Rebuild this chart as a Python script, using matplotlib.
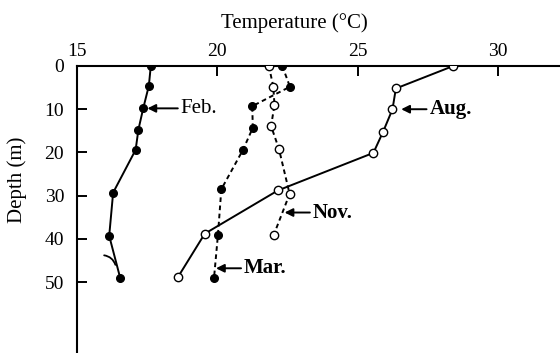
import matplotlib
matplotlib.use('Agg')
import matplotlib.pyplot as plt

plt.rcParams['font.family'] = ['Liberation Serif', 'DejaVu Serif']

# Data (temperature in °C, depth in m)
feb_temp = [17.64, 17.57, 17.37, 17.2, 17.1, 16.3, 16.16, 16.55]
feb_depth = [0, 4.6, 9.8, 14.7, 19.4, 29.3, 39.3, 49]
aug_temp = [28.40, 26.36, 26.24, 25.9, 25.56, 22.16, 19.56, 18.61]
aug_depth = [0, 5.2, 10, 15.3, 20.1, 28.8, 38.8, 48.8]
mar_temp = [22.32, 22.59, 21.25, 21.27, 20.92, 20.15, 20.03, 19.89]
mar_depth = [0, 4.8, 9.3, 14.3, 19.4, 28.5, 39, 49]
nov_temp = [21.84, 22.0, 22.04, 21.92, 22.2, 22.58, 22.02]
nov_depth = [0, 4.8, 9, 13.9, 19.2, 29.6, 39]

x_ticks = [15, 20, 25, 30]
y_ticks = [0, 10, 20, 30, 40, 50]

fig = plt.figure(figsize=(5.6, 3.53), dpi=100)
ax = fig.add_axes([76.6 / 560, 0, 1 - 76.6 / 560, 1 - 66 / 353])

lw = 1.4
dash = (0, (2.4, 1.8))
ax.plot(feb_temp, feb_depth, '-', color='black', lw=lw, marker='o', ms=5.5,
        mfc='black', mec='black', zorder=3)
ax.plot(aug_temp, aug_depth, '-', color='black', lw=lw, marker='o', ms=6,
        mfc='white', mec='black', mew=1.0, zorder=3)
ax.plot(mar_temp, mar_depth, linestyle=dash, color='black', lw=lw, marker='o',
        ms=5.5, mfc='black', mec='black', zorder=3)
ax.plot(nov_temp, nov_depth, linestyle=dash, color='black', lw=lw, marker='o',
        ms=6, mfc='white', mec='black', mew=1.0, zorder=3)

# small hook stroke near Feb profile
ax.annotate('', xy=(16.38, 46.0), xytext=(15.98, 43.8),
            arrowprops=dict(arrowstyle='-', lw=1.3, color='black',
                            shrinkA=0, shrinkB=0,
                            connectionstyle='arc3,rad=-0.3'))

ax.set_xlim(15, 32.2)
ax.set_ylim(66.4, 0)
ax.set_xticks(x_ticks)
ax.set_yticks(y_ticks)
ax.xaxis.set_ticks_position('top')
ax.tick_params(axis='both', direction='in', length=7, width=1.4,
               labelsize=14, colors='black')
ax.tick_params(axis='x', pad=4)
ax.tick_params(axis='y', pad=9)
for s in ['right', 'bottom']:
    ax.spines[s].set_visible(False)
for s in ['top', 'left']:
    ax.spines[s].set_linewidth(1.5)
ax.patch.set_visible(False)

fig.text(294 / 560, 1 - 28 / 353, 'Temperature (°C)', ha='center',
         va='baseline', fontsize=15)
fig.text(17 / 560, 1 - 180 / 353, 'Depth (m)', ha='center', va='center',
         rotation=90, fontsize=15)

arrow = dict(arrowstyle='-|>', lw=1.4, color='black', mutation_scale=12,
             shrinkA=0, shrinkB=0)
ax.annotate('Feb.', xy=(17.52, 9.8), xytext=(18.7, 9.8), fontsize=15,
            va='center', ha='left', arrowprops=arrow)
ax.annotate('Aug.', xy=(26.55, 10), xytext=(27.55, 10), fontsize=15,
            fontweight='bold', va='center', ha='left', arrowprops=arrow)
ax.annotate('Nov.', xy=(22.4, 33.9), xytext=(23.4, 33.9), fontsize=15,
            fontweight='bold', va='center', ha='left', arrowprops=arrow)
ax.annotate('Mar.', xy=(19.96, 46.8), xytext=(20.95, 46.8), fontsize=15,
            fontweight='bold', va='center', ha='left', arrowprops=arrow)

fig.savefig('out.png', dpi=100)
